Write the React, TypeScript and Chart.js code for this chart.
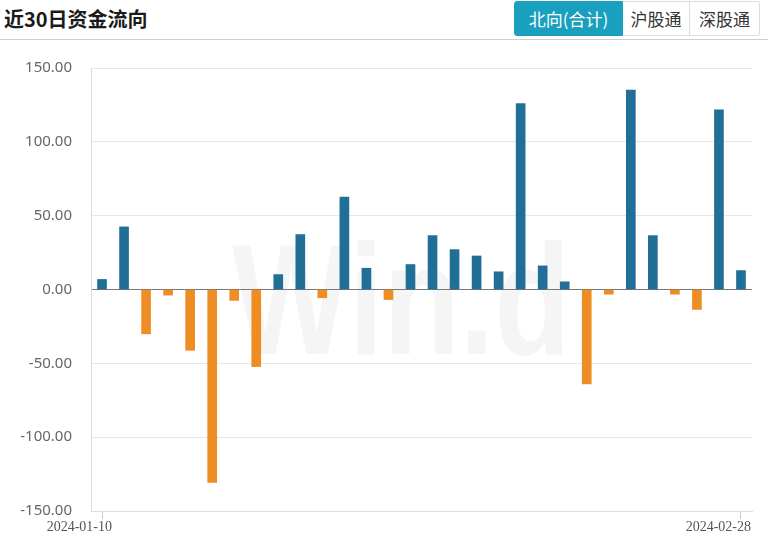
import React, { useEffect, useRef } from "react";
import { Chart, registerables } from "chart.js";

Chart.register(...registerables);

const dates = [
  "2024-01-10", "2024-01-11", "2024-01-12", "2024-01-15", "2024-01-16",
  "2024-01-17", "2024-01-18", "2024-01-19", "2024-01-22", "2024-01-23",
  "2024-01-24", "2024-01-25", "2024-01-26", "2024-01-29", "2024-01-30",
  "2024-01-31", "2024-02-01", "2024-02-02", "2024-02-05", "2024-02-06",
  "2024-02-07", "2024-02-08", "2024-02-19", "2024-02-20", "2024-02-21",
  "2024-02-22", "2024-02-23", "2024-02-26", "2024-02-27", "2024-02-28",
];

const netFlow = [
  6.8, 42.4, -30.0, -3.8, -41.2, -130.6, -7.4, -52.2, 10.1, 37.2,
  -5.6, 62.6, 14.4, -6.8, 16.9, 36.5, 27.0, 22.7, 12.0, 125.9,
  16.0, 5.2, -64.0, -3.2, 135.1, 36.5, -3.2, -13.5, 121.6, 12.8,
];

const yTicks = [-150, -100, -50, 0, 50, 100, 150];
const buttons = ["北向(合计)", "沪股通", "深股通"];
const buttonWidths = [109, 67, 70];
const title = "近30日资金流向";
const watermark = "Win.d";

const BLUE = "rgb(33,111,150)";
const ORANGE = "rgb(238,141,36)";
const TEAL = "rgb(25,160,190)";

const CANVAS_TOP = 40;
const CANVAS_H = 544 - CANVAS_TOP;

const watermarkPlugin = {
  id: "watermark",
  beforeDraw(chart: any) {
    const ctx = chart.ctx;
    ctx.save();
    ctx.fillStyle = "rgba(0,0,0,0.04)";
    ctx.font = "bold 158px 'Liberation Sans', Arial, sans-serif";
    ctx.textBaseline = "alphabetic";
    ctx.translate(232, 354 - CANVAS_TOP);
    ctx.scale(0.79, 1);
    ctx.fillText(watermark, 0, 0);
    ctx.restore();
  },
};

function BarChart() {
  const ref = useRef<HTMLCanvasElement | null>(null);
  useEffect(() => {
    if (!ref.current) return;
    const lastIdx = dates.length - 1;
    const chart = new Chart(ref.current, {
      type: "bar",
      data: {
        labels: dates,
        datasets: [
          {
            data: netFlow,
            backgroundColor: netFlow.map((v) => (v >= 0 ? BLUE : ORANGE)),
            barThickness: 9,
            borderWidth: 0,
          },
        ],
      },
      plugins: [watermarkPlugin],
      options: {
        animation: false,
        responsive: false,
        devicePixelRatio: 1,
        layout: { padding: { top: 0, right: 16, left: 0, bottom: 0 } },
        plugins: { legend: { display: false }, tooltip: { enabled: false } },
        scales: {
          x: {
            afterFit: (s: any) => {
              s.height = 33;
            },
            border: { display: true, color: "#dcdcdc", width: 1 },
            grid: {
              offset: false,
              drawOnChartArea: false,
              drawTicks: true,
              tickLength: 8,
              color: (c: any) =>
                c.index === 0 || c.index === lastIdx ? "#cccccc" : "rgba(0,0,0,0)",
            },
            ticks: {
              autoSkip: false,
              maxRotation: 0,
              minRotation: 0,
              align: "end",
              labelOffset: 10,
              padding: 0,
              color: "#555",
              font: { family: "'Liberation Serif', serif", size: 14 },
              callback: (_v: any, i: number) =>
                i === 0 || i === lastIdx ? dates[i] : "",
            },
          },
          y: {
            min: -150,
            max: 150,
            afterFit: (s: any) => {
              s.width = 91;
            },
            afterBuildTicks: (s: any) => {
              s.ticks = yTicks.map((v) => ({ value: v }));
            },
            border: { display: true, color: "#dcdcdc", width: 1 },
            grid: {
              drawTicks: false,
              color: (c: any) => (c.tick && c.tick.value === 0 ? "#777777" : "#e6e6e6"),
              lineWidth: 1,
            },
            ticks: {
              padding: 19,
              color: "#666",
              font: { family: "'Noto Sans', sans-serif", size: 15 },
              callback: (v: any) => Number(v).toFixed(2),
            },
          },
        },
      },
    } as any);
    return () => chart.destroy();
  }, []);
  return (
    <canvas
      ref={ref}
      width={768}
      height={CANVAS_H}
      style={{ position: "absolute", left: 0, top: CANVAS_TOP, width: 768, height: CANVAS_H }}
    />
  );
}

export default function App() {
  useEffect(() => {
    document.body.style.margin = "0";
  }, []);
  return (
    <div
      style={{
        position: "relative",
        width: 768,
        height: 544,
        background: "#fff",
        overflow: "hidden",
        fontFamily: "'Noto Sans CJK SC', sans-serif",
      }}
    >
      <div
        style={{
          position: "absolute",
          left: 4,
          top: 4,
          fontSize: 20,
          fontWeight: 700,
          color: "#1a1a1a",
          lineHeight: "30px",
        }}
      >
        {title}
      </div>
      <div
        style={{
          position: "absolute",
          left: 0,
          top: 39,
          width: 768,
          height: 1,
          background: "#cfcfcf",
          zIndex: 2,
        }}
      />
      <div style={{ position: "absolute", left: 514, top: 1, display: "flex", zIndex: 2 }}>
        {buttons.map((b, i) => (
          <div
            key={b}
            style={{
              boxSizing: "border-box",
              width: buttonWidths[i],
              height: 35,
              lineHeight: "33px",
              whiteSpace: "nowrap",
              textAlign: "center",
              fontSize: 17,
              color: i === 0 ? "#fff" : "#333",
              background: i === 0 ? TEAL : "#fff",
              borderTop: i === 0 ? `1px solid ${TEAL}` : "1px solid #ddd",
              borderBottom: i === 0 ? `1px solid ${TEAL}` : "1px solid #ddd",
              borderRight: i === 0 ? `1px solid ${TEAL}` : "1px solid #ddd",
              borderLeft: i === 0 ? `1px solid ${TEAL}` : "none",
              borderRadius: i === 0 ? "3px 0 0 3px" : i === 2 ? "0 3px 3px 0" : 0,
            }}
          >
            {b}
          </div>
        ))}
      </div>
      <BarChart />
    </div>
  );
}
